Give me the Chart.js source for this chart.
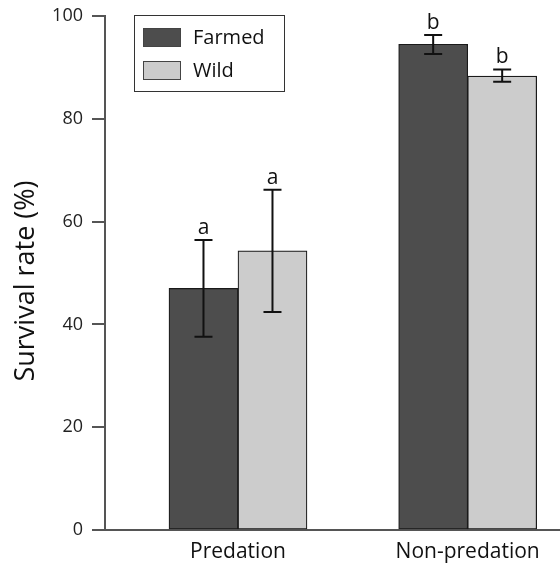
<!DOCTYPE html>
<html>
<head>
<meta charset="utf-8">
<script src="https://cdn.jsdelivr.net/npm/chart.js@4.4.1/dist/chart.umd.min.js"></script>
<style>
html,body{margin:0;padding:0;background:#fff;}
#wrap{width:560px;height:567px;position:relative;}
</style>
</head>
<body>
<div id="wrap"><canvas id="c" width="560" height="567"></canvas></div>
<script>
const categories = ['Predation', 'Non-predation'];
const seriesNames = ['Farmed', 'Wild'];
const farmed = [47.0, 94.5];
const wild = [54.3, 88.3];
const farmedLow = [37.6, 92.6];
const farmedHigh = [56.4, 96.3];
const wildLow = [42.4, 87.2];
const wildHigh = [66.2, 89.6];
const farmedLetters = ['a', 'b'];
const wildLetters = ['a', 'b'];
const yTicks = [0, 20, 40, 60, 80, 100];
const yTitle = 'Survival rate (%)';

const FONT = "'Open Sans', sans-serif";
const AXIS = '#555555';

const toPts = arr => arr.map((v, i) => ({x: i + 1, y: v}));
const errs = [
  {low: farmedLow, high: farmedHigh, letters: farmedLetters},
  {low: wildLow, high: wildHigh, letters: wildLetters}
];

const extras = {
  id: 'extras',
  afterDatasetsDraw(chart) {
    const ctx = chart.ctx;
    const y = chart.scales.y;
    ctx.save();
    errs.forEach((e, di) => {
      const meta = chart.getDatasetMeta(di);
      meta.data.forEach((bar, i) => {
        const x = bar.x;
        const yl = y.getPixelForValue(e.low[i]);
        const yh = y.getPixelForValue(e.high[i]);
        ctx.strokeStyle = '#111';
        ctx.lineWidth = 2;
        ctx.beginPath();
        ctx.moveTo(x, yl); ctx.lineTo(x, yh);
        ctx.moveTo(x - 9, yl); ctx.lineTo(x + 9, yl);
        ctx.moveTo(x - 9, yh); ctx.lineTo(x + 9, yh);
        ctx.stroke();
        ctx.fillStyle = '#111';
        ctx.font = '21px ' + FONT;
        ctx.textAlign = 'center';
        ctx.textBaseline = 'alphabetic';
        ctx.fillText(e.letters[i], x, yh - 6);
      });
    });
    // legend
    const lx = 134.5, ly = 15.5, lw = 150, lh = 76;
    ctx.strokeStyle = '#333';
    ctx.lineWidth = 1;
    ctx.strokeRect(lx, ly, lw, lh);
    chart.data.datasets.forEach((ds, di) => {
      const sy = 28.5 + di * 33;
      ctx.fillStyle = ds.backgroundColor;
      ctx.fillRect(143.5, sy, 37, 18);
      ctx.strokeStyle = '#444';
      ctx.strokeRect(143.5, sy, 37, 18);
      ctx.fillStyle = '#111';
      ctx.font = '20px ' + FONT;
      ctx.textAlign = 'left';
      ctx.textBaseline = 'middle';
      ctx.fillText(ds.label, 193, sy + 10);
    });
    // y title
    ctx.save();
    ctx.translate(26, 281);
    ctx.rotate(-Math.PI / 2);
    ctx.font = '27px ' + FONT;
    ctx.fillStyle = '#111';
    ctx.textAlign = 'center';
    ctx.textBaseline = 'middle';
    ctx.fillText(yTitle, 0, 0);
    ctx.restore();
    ctx.restore();
  }
};

new Chart(document.getElementById('c'), {
  type: 'bar',
  data: {
    datasets: [
      {label: seriesNames[0], data: toPts(farmed), backgroundColor: '#4d4d4d', borderColor: '#1a1a1a', borderWidth: 1.2, barThickness: 69, borderSkipped: false},
      {label: seriesNames[1], data: toPts(wild), backgroundColor: '#cccccc', borderColor: '#1a1a1a', borderWidth: 1.2, barThickness: 69, borderSkipped: false}
    ]
  },
  options: {
    responsive: false,
    animation: false,
    devicePixelRatio: 1,
    layout: {padding: {top: 16, right: 0, left: 0, bottom: 0}},
    plugins: {legend: {display: false}, tooltip: {enabled: false}},
    scales: {
      x: {
        type: 'linear',
        offset: false,
        min: 0.421,
        max: 2.402,
        afterBuildTicks: s => { s.ticks = categories.map((c, i) => ({value: i + 1})); },
        afterFit: s => { s.height = 37; s.paddingLeft = 0; s.paddingRight = 0; },
        ticks: {
          callback: v => categories[Math.round(v) - 1],
          font: {family: FONT, size: 21},
          color: '#111',
          padding: 9,
          autoSkip: false,
          maxRotation: 0
        },
        grid: {display: false, drawTicks: false, offset: false},
        border: {display: true, color: AXIS, width: 2}
      },
      y: {
        min: 0,
        max: 100,
        afterBuildTicks: s => { s.ticks = yTicks.map(v => ({value: v})); },
        afterFit: s => { s.width = 105; s.paddingTop = 0; s.paddingBottom = 0; },
        ticks: {
          font: {family: FONT, size: 18},
          color: '#222',
          padding: 9
        },
        grid: {drawOnChartArea: false, drawTicks: true, tickLength: 13, color: AXIS, lineWidth: 2},
        border: {display: true, color: AXIS, width: 2}
      }
    }
  },
  plugins: [extras]
});
</script>
</body>
</html>
